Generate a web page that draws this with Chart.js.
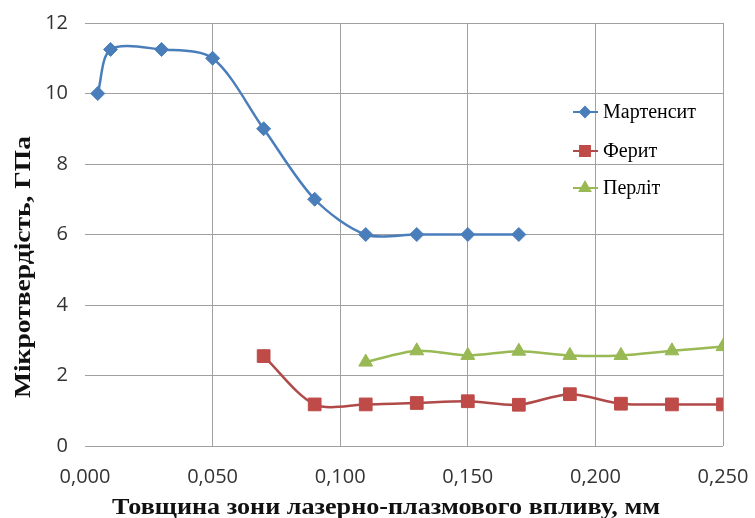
<!DOCTYPE html>
<html>
<head>
<meta charset="utf-8">
<script src="https://cdn.jsdelivr.net/npm/chart.js@4"></script>
<style>
  html, body { margin: 0; padding: 0; background: #fff; }
  #wrap { width: 755px; height: 518px; }
</style>
</head>
<body>
<div id="wrap"><canvas id="chart" width="755" height="518"></canvas></div>
<script>
// data
const seriesNames = ['Мартенсит', 'Ферит', 'Перліт'];

const martX = [0.005, 0.010, 0.030, 0.050, 0.070, 0.090, 0.110, 0.130, 0.150, 0.170];
const martY = [10.0, 11.25, 11.25, 11.0, 9.0, 7.0, 6.0, 6.0, 6.0, 6.0];

const ferX = [0.070, 0.090, 0.110, 0.130, 0.150, 0.170, 0.190, 0.210, 0.230, 0.250];
const ferY = [2.55, 1.18, 1.18, 1.22, 1.27, 1.17, 1.47, 1.2, 1.18, 1.18];

const perX = [0.110, 0.130, 0.150, 0.170, 0.190, 0.210, 0.230, 0.250];
const perY = [2.38, 2.7, 2.57, 2.69, 2.57, 2.57, 2.7, 2.82];

const xTitle = 'Товщина зони лазерно-плазмового впливу, мм';
const yTitle = 'Мікротвердість, ГПа';

const colors = ['#4a7ebb', '#be4b48', '#98b954'];
const lineColors = ['#4a7ebb', '#b04a48', '#98b954'];
const markers = ['rectRot', 'rect', 'triangle'];
const markerSizes = [7, 9, 8];

const serif = '"Liberation Serif", "DejaVu Serif", serif';
const sans = '"Open Sans", "Liberation Sans", sans-serif';

function toPoints(xs, ys) {
  return xs.map((x, i) => ({ x: x, y: ys[i] }));
}

const allData = [toPoints(martX, martY), toPoints(ferX, ferY), toPoints(perX, perY)];

// text stretched to a given width (the original titles are wide)
function wideText(ctx, text, cx, cy, width, angle) {
  ctx.save();
  ctx.translate(cx, cy);
  ctx.rotate(angle);
  const w = ctx.measureText(text).width;
  ctx.scale(width / w, 1);
  ctx.textAlign = 'center';
  ctx.textBaseline = 'middle';
  ctx.fillText(text, 0, 0);
  ctx.restore();
}

// legend inside the plot area + axis titles
const extras = {
  id: 'extras',
  afterDraw(chart) {
    const ctx = chart.ctx;
    const x0 = 573, rows = [112, 151, 188];
    ctx.save();
    ctx.font = '20px ' + serif;
    ctx.textBaseline = 'middle';
    rows.forEach((y, i) => {
      ctx.strokeStyle = lineColors[i];
      ctx.lineWidth = 2;
      ctx.beginPath();
      ctx.moveTo(x0, y);
      ctx.lineTo(x0 + 25, y);
      ctx.stroke();
      ctx.fillStyle = colors[i];
      ctx.strokeStyle = colors[i];
      Chart.helpers.drawPoint(ctx, {
        pointStyle: markers[i],
        radius: markerSizes[i] - 2,
        borderWidth: 1
      }, x0 + 12, y);
      ctx.fillStyle = '#000';
      ctx.textAlign = 'left';
      ctx.fillText(seriesNames[i], x0 + 30, y + 1);
    });

    ctx.fillStyle = '#111';
    ctx.font = 'bold 23px ' + serif;
    wideText(ctx, xTitle, 386, 508, 548, 0);
    ctx.font = 'bold 24px ' + serif;
    wideText(ctx, yTitle, 24, 267, 262, -Math.PI / 2);
    ctx.restore();
  }
};

const ctx = document.getElementById('chart').getContext('2d');
new Chart(ctx, {
  type: 'line',
  data: {
    datasets: allData.map((d, i) => ({
      label: seriesNames[i],
      data: d,
      borderColor: lineColors[i],
      backgroundColor: colors[i],
      pointBackgroundColor: colors[i],
      pointBorderColor: colors[i],
      pointStyle: markers[i],
      pointRadius: markerSizes[i],
      pointBorderWidth: 1,
      borderWidth: 2.5,
      tension: 0.3,
      fill: false
    }))
  },
  options: {
    responsive: false,
    animation: false,
    events: [],
    layout: { padding: { top: 23, right: 32, left: 0, bottom: 0 } },
    plugins: {
      legend: { display: false },
      tooltip: { enabled: false }
    },
    scales: {
      x: {
        type: 'linear',
        min: 0,
        max: 0.25,
        afterFit(scale) {
          scale.height = 72;
          scale.paddingLeft = 0;
          scale.paddingRight = 0;
        },
        ticks: {
          stepSize: 0.05,
          padding: 19,
          color: '#333',
          font: { family: sans, size: 20 },
          callback: v => v.toFixed(3).replace('.', ',')
        },
        grid: {
          color: c => c.tick && c.tick.value === 0 ? 'rgba(0,0,0,0)' : '#a0a0a0',
          lineWidth: 1,
          drawTicks: false
        },
        border: { display: false }
      },
      y: {
        min: 0,
        max: 12,
        afterFit(scale) {
          scale.width = 85;
          scale.paddingTop = 0;
          scale.paddingBottom = 0;
        },
        ticks: {
          stepSize: 2,
          padding: 17,
          color: '#333',
          font: { family: sans, size: 20 }
        },
        grid: {
          color: '#a0a0a0',
          lineWidth: 1,
          drawTicks: false
        },
        border: { display: false }
      }
    }
  },
  plugins: [extras]
});
</script>
</body>
</html>
